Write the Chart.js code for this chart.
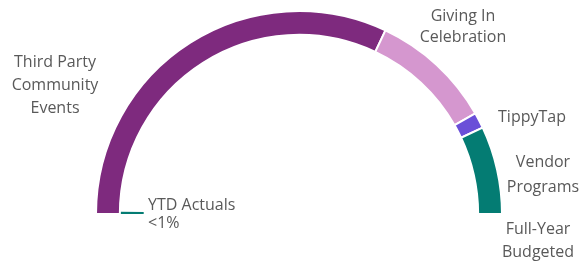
<!DOCTYPE html>
<html>
<head>
<meta charset="utf-8">
<script src="https://cdn.jsdelivr.net/npm/chart.js@4"></script>
<style>
  html, body { margin: 0; padding: 0; background: #fff; }
  .wrap { width: 588px; height: 274px; }
</style>
</head>
<body>
<div class="wrap"><canvas id="myChart" width="588" height="274"></canvas></div>
<script>
// data
const categories = ['Third Party Community Events', 'Giving In Celebration', 'TippyTap', 'Vendor Programs'];
const budgeted = [64, 19.5, 2.5, 14];
const ytdActuals = [0.4, 99.6];
const colors = ['#7e2a7e', '#d597cf', '#6a4fd8', '#047c73'];

// labels drawn next to the ring (dx, dy from arc centre)
const labelSpots = [
    { lines: ['Third Party', 'Community', 'Events'], dx: -244, dy: -152, align: 'center', gap: 23 },
    { lines: ['Giving In', 'Celebration'], dx: 164, dy: -198, align: 'center', gap: 21 },
    { lines: ['TippyTap'], dx: 233, dy: -97, align: 'center', gap: 21 },
    { lines: ['Vendor', 'Programs'], dx: 244, dy: -52, align: 'center', gap: 25 },
    { lines: ['Full-Year', 'Budgeted'], dx: 239, dy: 15, align: 'center', gap: 23 },
    { lines: ['YTD Actuals', '<1%'], dx: -151, dy: -9, align: 'left', gap: 18 }
];

const labelPlugin = {
    id: 'ringLabels',
    afterDraw(chart) {
        const arc = chart.getDatasetMeta(0).data[0];
        const c = chart.ctx;
        c.save();
        c.fillStyle = '#595959';
        c.font = '16px "Open Sans", sans-serif';
        c.textBaseline = 'middle';
        labelSpots.forEach((l) => {
            c.textAlign = l.align;
            l.lines.forEach((t, i) => {
                c.fillText(t, arc.x + l.dx, arc.y + l.dy + i * l.gap);
            });
        });
        c.restore();
    }
};

var ctx = document.getElementById('myChart').getContext('2d');
new Chart(ctx, {
    type: 'doughnut',
    data: {
        labels: categories,
        datasets: [{
            label: 'Full-Year Budgeted',
            data: budgeted,
            backgroundColor: colors,
            borderColor: '#ffffff',
            borderWidth: 2
        },
        {
            label: 'YTD Actuals',
            data: ytdActuals,
            backgroundColor: ['#047c73', 'rgba(0,0,0,0)'],
            borderWidth: 0
        }]
    },
    options: {
        responsive: false,
        animation: false,
        rotation: -90,
        circumference: 180,
        cutout: '76.5%',
        layout: { padding: { top: 10, bottom: 59, left: 10, right: 0 } },
        plugins: {
            legend: { display: false },
            tooltip: { enabled: false }
        }
    },
    plugins: [labelPlugin]
});
</script>
</body>
</html>
